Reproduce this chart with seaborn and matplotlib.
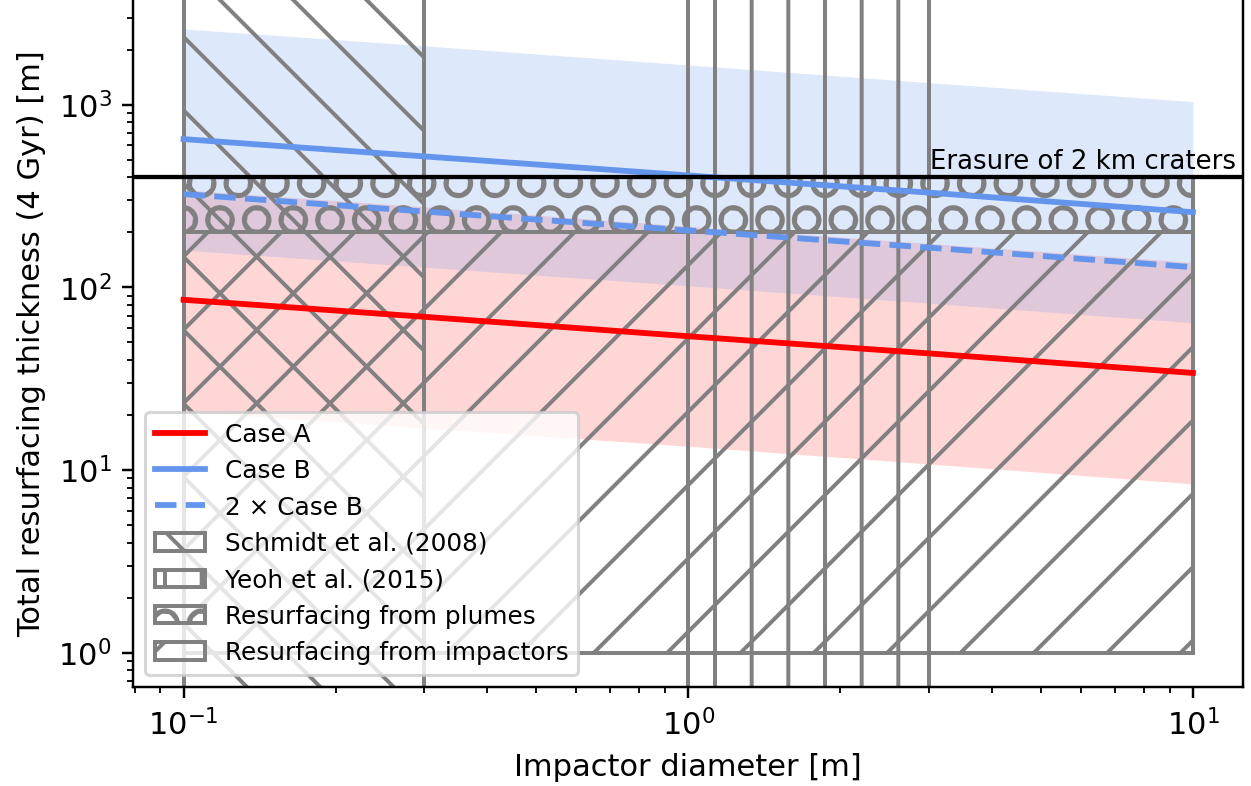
import numpy as np
import pandas as pd
import seaborn as sns
import matplotlib.pyplot as plt
import matplotlib.transforms as mtransforms
from matplotlib.patches import Rectangle

# impactor diameters [m] where the curves were read
diameter = [0.1, 0.3, 1.0, 3.0, 10.0]

# total resurfacing thickness [m]
case_a = [85.5, 69.0, 54.0, 43.5, 34.0]
case_a_low = [21.0, 17.0, 13.5, 10.8, 8.4]
case_a_high = [342, 276, 216, 174, 137]

case_b = [648, 521, 410, 330, 258]
case_b_low = [160, 129, 102, 82, 64]
case_b_high = [2600, 2100, 1650, 1320, 1040]

case_b_x2 = [324, 260, 205, 165, 129]

erasure_thickness = 400

# hatched regions: (diameter range, thickness range)
schmidt_d = [0.1, 0.3]
yeoh_d = [1.0, 3.0]
all_d = [0.1, 10.0]
all_t = [0.01, 1e5]
plume_t = [200, 400]
impactor_t = [1, 200]

df = pd.DataFrame({"d": diameter, "a": case_a, "b": case_b, "b2": case_b_x2})

plt.rcParams["hatch.linewidth"] = 1.3

dpi = 220
fig = plt.figure(figsize=(1251.4 / dpi, 786.4 / dpi), dpi=dpi)
ax = fig.add_axes([0.1063, 0.126, 0.8873, 0.874])
ax.set_xscale("log")
ax.set_yscale("log")

# uncertainty bands
ax.fill_between(diameter, case_a_low, case_a_high, color="red", alpha=0.16, lw=0)
ax.fill_between(diameter, case_b_low, case_b_high, color="cornflowerblue", alpha=0.21, lw=0)

# model curves
sns.lineplot(data=df, x="d", y="a", color="red", lw=1.9, label="Case A", ax=ax)
sns.lineplot(data=df, x="d", y="b", color="cornflowerblue", lw=1.9, label="Case B", ax=ax)
sns.lineplot(data=df, x="d", y="b2", color="cornflowerblue", lw=1.9, ls="--",
             label="2 × Case B", ax=ax)

# literature / resurfacing regions
def region(d, t, hatch, label):
    ax.add_patch(Rectangle((d[0], t[0]), d[1] - d[0], t[1] - t[0], fill=False,
                           edgecolor="grey", lw=1.3, hatch=hatch, label=label))

region(schmidt_d, all_t, "\\", "Schmidt et al. (2008)")
region(yeoh_d, all_t, "|", "Yeoh et al. (2015)")
region(all_d, plume_t, "O", "Resurfacing from plumes")
region(all_d, impactor_t, "/", "Resurfacing from impactors")

# crater erasure threshold
ax.axhline(erasure_thickness, color="black", lw=1.4)
trans = mtransforms.blended_transform_factory(ax.transAxes, ax.transData)
ax.text(0.993, erasure_thickness * 1.04, "Erasure of 2 km craters", transform=trans,
        ha="right", va="bottom", fontsize=8.5)

ax.set_xlim(0.0794, 12.59)
ax.set_ylim(0.65, 3760)
ax.spines["top"].set_visible(False)
ax.set_xlabel("Impactor diameter [m]", fontsize=10)
ax.set_ylabel("Total resurfacing thickness (4 Gyr) [m]", fontsize=10)
ax.tick_params(labelsize=10)

ax.legend(loc="lower left", fontsize=8.1)

fig.savefig("out.png", dpi=dpi)
